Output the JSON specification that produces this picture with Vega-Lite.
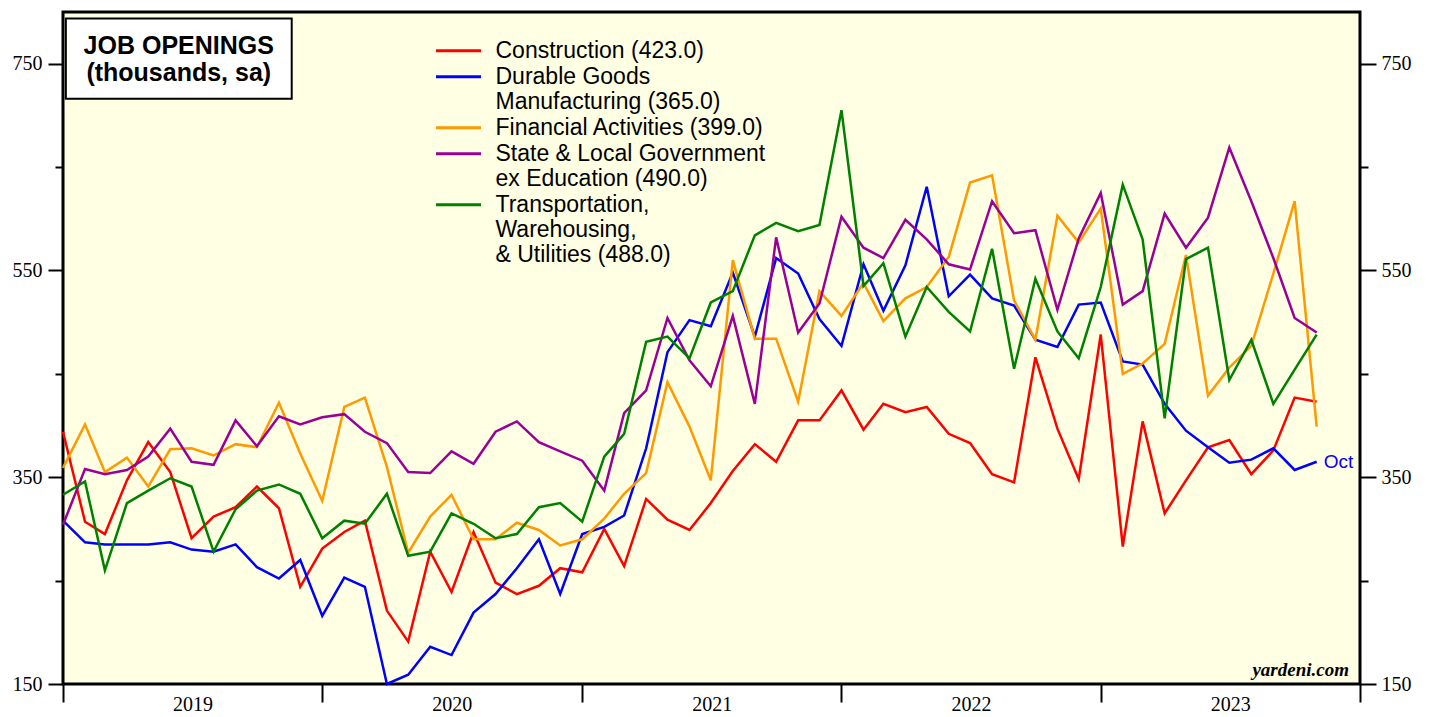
{
  "$schema": "https://vega.github.io/schema/vega-lite/v6.json",
  "width": 1297,
  "height": 672,
  "autosize": {"type": "none"},
  "padding": {"left": 63, "top": 12, "right": 71, "bottom": 33},
  "background": "#ffffff",
  "config": {
    "view": {"fill": "#ffffe3", "stroke": "#000000", "strokeWidth": 3},
    "font": "Liberation Sans"
  },
  "data": {"values": [
    {"month":"2018-12","series":"Construction","value":394},
    {"month":"2019-01","series":"Construction","value":307},
    {"month":"2019-02","series":"Construction","value":295},
    {"month":"2019-03","series":"Construction","value":347},
    {"month":"2019-04","series":"Construction","value":384},
    {"month":"2019-05","series":"Construction","value":355},
    {"month":"2019-06","series":"Construction","value":291},
    {"month":"2019-07","series":"Construction","value":312},
    {"month":"2019-08","series":"Construction","value":321},
    {"month":"2019-09","series":"Construction","value":341},
    {"month":"2019-10","series":"Construction","value":320},
    {"month":"2019-11","series":"Construction","value":244},
    {"month":"2019-12","series":"Construction","value":281},
    {"month":"2020-01","series":"Construction","value":297},
    {"month":"2020-02","series":"Construction","value":308},
    {"month":"2020-03","series":"Construction","value":221},
    {"month":"2020-04","series":"Construction","value":191},
    {"month":"2020-05","series":"Construction","value":278},
    {"month":"2020-06","series":"Construction","value":239},
    {"month":"2020-07","series":"Construction","value":297},
    {"month":"2020-08","series":"Construction","value":248},
    {"month":"2020-09","series":"Construction","value":237},
    {"month":"2020-10","series":"Construction","value":245},
    {"month":"2020-11","series":"Construction","value":262},
    {"month":"2020-12","series":"Construction","value":258},
    {"month":"2021-01","series":"Construction","value":300},
    {"month":"2021-02","series":"Construction","value":264},
    {"month":"2021-03","series":"Construction","value":329},
    {"month":"2021-04","series":"Construction","value":309},
    {"month":"2021-05","series":"Construction","value":299},
    {"month":"2021-06","series":"Construction","value":325},
    {"month":"2021-07","series":"Construction","value":356},
    {"month":"2021-08","series":"Construction","value":382},
    {"month":"2021-09","series":"Construction","value":365},
    {"month":"2021-10","series":"Construction","value":405},
    {"month":"2021-11","series":"Construction","value":405},
    {"month":"2021-12","series":"Construction","value":434},
    {"month":"2022-01","series":"Construction","value":396},
    {"month":"2022-02","series":"Construction","value":421},
    {"month":"2022-03","series":"Construction","value":413},
    {"month":"2022-04","series":"Construction","value":418},
    {"month":"2022-05","series":"Construction","value":392},
    {"month":"2022-06","series":"Construction","value":383},
    {"month":"2022-07","series":"Construction","value":353},
    {"month":"2022-08","series":"Construction","value":345},
    {"month":"2022-09","series":"Construction","value":466},
    {"month":"2022-10","series":"Construction","value":397},
    {"month":"2022-11","series":"Construction","value":348},
    {"month":"2022-12","series":"Construction","value":488},
    {"month":"2023-01","series":"Construction","value":283},
    {"month":"2023-02","series":"Construction","value":404},
    {"month":"2023-03","series":"Construction","value":315},
    {"month":"2023-04","series":"Construction","value":347},
    {"month":"2023-05","series":"Construction","value":379},
    {"month":"2023-06","series":"Construction","value":386},
    {"month":"2023-07","series":"Construction","value":353},
    {"month":"2023-08","series":"Construction","value":376},
    {"month":"2023-09","series":"Construction","value":427},
    {"month":"2023-10","series":"Construction","value":423},
    {"month":"2018-12","series":"Durable Goods Manufacturing","value":308},
    {"month":"2019-01","series":"Durable Goods Manufacturing","value":287},
    {"month":"2019-02","series":"Durable Goods Manufacturing","value":285},
    {"month":"2019-03","series":"Durable Goods Manufacturing","value":285},
    {"month":"2019-04","series":"Durable Goods Manufacturing","value":285},
    {"month":"2019-05","series":"Durable Goods Manufacturing","value":287},
    {"month":"2019-06","series":"Durable Goods Manufacturing","value":280},
    {"month":"2019-07","series":"Durable Goods Manufacturing","value":278},
    {"month":"2019-08","series":"Durable Goods Manufacturing","value":285},
    {"month":"2019-09","series":"Durable Goods Manufacturing","value":263},
    {"month":"2019-10","series":"Durable Goods Manufacturing","value":252},
    {"month":"2019-11","series":"Durable Goods Manufacturing","value":270},
    {"month":"2019-12","series":"Durable Goods Manufacturing","value":216},
    {"month":"2020-01","series":"Durable Goods Manufacturing","value":253},
    {"month":"2020-02","series":"Durable Goods Manufacturing","value":244},
    {"month":"2020-03","series":"Durable Goods Manufacturing","value":150},
    {"month":"2020-04","series":"Durable Goods Manufacturing","value":159},
    {"month":"2020-05","series":"Durable Goods Manufacturing","value":186},
    {"month":"2020-06","series":"Durable Goods Manufacturing","value":178},
    {"month":"2020-07","series":"Durable Goods Manufacturing","value":219},
    {"month":"2020-08","series":"Durable Goods Manufacturing","value":237},
    {"month":"2020-09","series":"Durable Goods Manufacturing","value":262},
    {"month":"2020-10","series":"Durable Goods Manufacturing","value":290},
    {"month":"2020-11","series":"Durable Goods Manufacturing","value":237},
    {"month":"2020-12","series":"Durable Goods Manufacturing","value":295},
    {"month":"2021-01","series":"Durable Goods Manufacturing","value":302},
    {"month":"2021-02","series":"Durable Goods Manufacturing","value":313},
    {"month":"2021-03","series":"Durable Goods Manufacturing","value":378},
    {"month":"2021-04","series":"Durable Goods Manufacturing","value":471},
    {"month":"2021-05","series":"Durable Goods Manufacturing","value":502},
    {"month":"2021-06","series":"Durable Goods Manufacturing","value":496},
    {"month":"2021-07","series":"Durable Goods Manufacturing","value":548},
    {"month":"2021-08","series":"Durable Goods Manufacturing","value":486},
    {"month":"2021-09","series":"Durable Goods Manufacturing","value":562},
    {"month":"2021-10","series":"Durable Goods Manufacturing","value":547},
    {"month":"2021-11","series":"Durable Goods Manufacturing","value":503},
    {"month":"2021-12","series":"Durable Goods Manufacturing","value":477},
    {"month":"2022-01","series":"Durable Goods Manufacturing","value":556},
    {"month":"2022-02","series":"Durable Goods Manufacturing","value":511},
    {"month":"2022-03","series":"Durable Goods Manufacturing","value":555},
    {"month":"2022-04","series":"Durable Goods Manufacturing","value":631},
    {"month":"2022-05","series":"Durable Goods Manufacturing","value":525},
    {"month":"2022-06","series":"Durable Goods Manufacturing","value":546},
    {"month":"2022-07","series":"Durable Goods Manufacturing","value":523},
    {"month":"2022-08","series":"Durable Goods Manufacturing","value":516},
    {"month":"2022-09","series":"Durable Goods Manufacturing","value":483},
    {"month":"2022-10","series":"Durable Goods Manufacturing","value":476},
    {"month":"2022-11","series":"Durable Goods Manufacturing","value":517},
    {"month":"2022-12","series":"Durable Goods Manufacturing","value":519},
    {"month":"2023-01","series":"Durable Goods Manufacturing","value":462},
    {"month":"2023-02","series":"Durable Goods Manufacturing","value":459},
    {"month":"2023-03","series":"Durable Goods Manufacturing","value":421},
    {"month":"2023-04","series":"Durable Goods Manufacturing","value":395},
    {"month":"2023-05","series":"Durable Goods Manufacturing","value":379},
    {"month":"2023-06","series":"Durable Goods Manufacturing","value":364},
    {"month":"2023-07","series":"Durable Goods Manufacturing","value":367},
    {"month":"2023-08","series":"Durable Goods Manufacturing","value":378},
    {"month":"2023-09","series":"Durable Goods Manufacturing","value":357},
    {"month":"2023-10","series":"Durable Goods Manufacturing","value":365},
    {"month":"2018-12","series":"Financial Activities","value":359},
    {"month":"2019-01","series":"Financial Activities","value":401},
    {"month":"2019-02","series":"Financial Activities","value":355},
    {"month":"2019-03","series":"Financial Activities","value":369},
    {"month":"2019-04","series":"Financial Activities","value":341},
    {"month":"2019-05","series":"Financial Activities","value":377},
    {"month":"2019-06","series":"Financial Activities","value":378},
    {"month":"2019-07","series":"Financial Activities","value":371},
    {"month":"2019-08","series":"Financial Activities","value":382},
    {"month":"2019-09","series":"Financial Activities","value":379},
    {"month":"2019-10","series":"Financial Activities","value":422},
    {"month":"2019-11","series":"Financial Activities","value":373},
    {"month":"2019-12","series":"Financial Activities","value":327},
    {"month":"2020-01","series":"Financial Activities","value":418},
    {"month":"2020-02","series":"Financial Activities","value":427},
    {"month":"2020-03","series":"Financial Activities","value":360},
    {"month":"2020-04","series":"Financial Activities","value":277},
    {"month":"2020-05","series":"Financial Activities","value":312},
    {"month":"2020-06","series":"Financial Activities","value":333},
    {"month":"2020-07","series":"Financial Activities","value":290},
    {"month":"2020-08","series":"Financial Activities","value":290},
    {"month":"2020-09","series":"Financial Activities","value":306},
    {"month":"2020-10","series":"Financial Activities","value":299},
    {"month":"2020-11","series":"Financial Activities","value":284},
    {"month":"2020-12","series":"Financial Activities","value":290},
    {"month":"2021-01","series":"Financial Activities","value":310},
    {"month":"2021-02","series":"Financial Activities","value":334},
    {"month":"2021-03","series":"Financial Activities","value":354},
    {"month":"2021-04","series":"Financial Activities","value":442},
    {"month":"2021-05","series":"Financial Activities","value":399},
    {"month":"2021-06","series":"Financial Activities","value":347},
    {"month":"2021-07","series":"Financial Activities","value":560},
    {"month":"2021-08","series":"Financial Activities","value":484},
    {"month":"2021-09","series":"Financial Activities","value":484},
    {"month":"2021-10","series":"Financial Activities","value":423},
    {"month":"2021-11","series":"Financial Activities","value":530},
    {"month":"2021-12","series":"Financial Activities","value":506},
    {"month":"2022-01","series":"Financial Activities","value":538},
    {"month":"2022-02","series":"Financial Activities","value":501},
    {"month":"2022-03","series":"Financial Activities","value":523},
    {"month":"2022-04","series":"Financial Activities","value":534},
    {"month":"2022-05","series":"Financial Activities","value":563},
    {"month":"2022-06","series":"Financial Activities","value":635},
    {"month":"2022-07","series":"Financial Activities","value":642},
    {"month":"2022-08","series":"Financial Activities","value":521},
    {"month":"2022-09","series":"Financial Activities","value":483},
    {"month":"2022-10","series":"Financial Activities","value":603},
    {"month":"2022-11","series":"Financial Activities","value":577},
    {"month":"2022-12","series":"Financial Activities","value":610},
    {"month":"2023-01","series":"Financial Activities","value":450},
    {"month":"2023-02","series":"Financial Activities","value":460},
    {"month":"2023-03","series":"Financial Activities","value":479},
    {"month":"2023-04","series":"Financial Activities","value":565},
    {"month":"2023-05","series":"Financial Activities","value":429},
    {"month":"2023-06","series":"Financial Activities","value":456},
    {"month":"2023-07","series":"Financial Activities","value":477},
    {"month":"2023-08","series":"Financial Activities","value":547},
    {"month":"2023-09","series":"Financial Activities","value":617},
    {"month":"2023-10","series":"Financial Activities","value":399},
    {"month":"2018-12","series":"State & Local Government ex Education","value":304},
    {"month":"2019-01","series":"State & Local Government ex Education","value":358},
    {"month":"2019-02","series":"State & Local Government ex Education","value":353},
    {"month":"2019-03","series":"State & Local Government ex Education","value":357},
    {"month":"2019-04","series":"State & Local Government ex Education","value":370},
    {"month":"2019-05","series":"State & Local Government ex Education","value":397},
    {"month":"2019-06","series":"State & Local Government ex Education","value":365},
    {"month":"2019-07","series":"State & Local Government ex Education","value":362},
    {"month":"2019-08","series":"State & Local Government ex Education","value":405},
    {"month":"2019-09","series":"State & Local Government ex Education","value":380},
    {"month":"2019-10","series":"State & Local Government ex Education","value":409},
    {"month":"2019-11","series":"State & Local Government ex Education","value":401},
    {"month":"2019-12","series":"State & Local Government ex Education","value":408},
    {"month":"2020-01","series":"State & Local Government ex Education","value":411},
    {"month":"2020-02","series":"State & Local Government ex Education","value":394},
    {"month":"2020-03","series":"State & Local Government ex Education","value":383},
    {"month":"2020-04","series":"State & Local Government ex Education","value":355},
    {"month":"2020-05","series":"State & Local Government ex Education","value":354},
    {"month":"2020-06","series":"State & Local Government ex Education","value":375},
    {"month":"2020-07","series":"State & Local Government ex Education","value":363},
    {"month":"2020-08","series":"State & Local Government ex Education","value":394},
    {"month":"2020-09","series":"State & Local Government ex Education","value":404},
    {"month":"2020-10","series":"State & Local Government ex Education","value":384},
    {"month":"2020-11","series":"State & Local Government ex Education","value":375},
    {"month":"2020-12","series":"State & Local Government ex Education","value":366},
    {"month":"2021-01","series":"State & Local Government ex Education","value":337},
    {"month":"2021-02","series":"State & Local Government ex Education","value":412},
    {"month":"2021-03","series":"State & Local Government ex Education","value":434},
    {"month":"2021-04","series":"State & Local Government ex Education","value":504},
    {"month":"2021-05","series":"State & Local Government ex Education","value":463},
    {"month":"2021-06","series":"State & Local Government ex Education","value":438},
    {"month":"2021-07","series":"State & Local Government ex Education","value":506},
    {"month":"2021-08","series":"State & Local Government ex Education","value":421},
    {"month":"2021-09","series":"State & Local Government ex Education","value":582},
    {"month":"2021-10","series":"State & Local Government ex Education","value":490},
    {"month":"2021-11","series":"State & Local Government ex Education","value":518},
    {"month":"2021-12","series":"State & Local Government ex Education","value":602},
    {"month":"2022-01","series":"State & Local Government ex Education","value":572},
    {"month":"2022-02","series":"State & Local Government ex Education","value":562},
    {"month":"2022-03","series":"State & Local Government ex Education","value":599},
    {"month":"2022-04","series":"State & Local Government ex Education","value":580},
    {"month":"2022-05","series":"State & Local Government ex Education","value":556},
    {"month":"2022-06","series":"State & Local Government ex Education","value":551},
    {"month":"2022-07","series":"State & Local Government ex Education","value":617},
    {"month":"2022-08","series":"State & Local Government ex Education","value":586},
    {"month":"2022-09","series":"State & Local Government ex Education","value":589},
    {"month":"2022-10","series":"State & Local Government ex Education","value":512},
    {"month":"2022-11","series":"State & Local Government ex Education","value":581},
    {"month":"2022-12","series":"State & Local Government ex Education","value":625},
    {"month":"2023-01","series":"State & Local Government ex Education","value":517},
    {"month":"2023-02","series":"State & Local Government ex Education","value":530},
    {"month":"2023-03","series":"State & Local Government ex Education","value":605},
    {"month":"2023-04","series":"State & Local Government ex Education","value":572},
    {"month":"2023-05","series":"State & Local Government ex Education","value":601},
    {"month":"2023-06","series":"State & Local Government ex Education","value":669},
    {"month":"2023-07","series":"State & Local Government ex Education","value":617},
    {"month":"2023-08","series":"State & Local Government ex Education","value":562},
    {"month":"2023-09","series":"State & Local Government ex Education","value":504},
    {"month":"2023-10","series":"State & Local Government ex Education","value":490},
    {"month":"2018-12","series":"Transportation, Warehousing, & Utilities","value":333},
    {"month":"2019-01","series":"Transportation, Warehousing, & Utilities","value":346},
    {"month":"2019-02","series":"Transportation, Warehousing, & Utilities","value":260},
    {"month":"2019-03","series":"Transportation, Warehousing, & Utilities","value":325},
    {"month":"2019-04","series":"Transportation, Warehousing, & Utilities","value":337},
    {"month":"2019-05","series":"Transportation, Warehousing, & Utilities","value":349},
    {"month":"2019-06","series":"Transportation, Warehousing, & Utilities","value":341},
    {"month":"2019-07","series":"Transportation, Warehousing, & Utilities","value":278},
    {"month":"2019-08","series":"Transportation, Warehousing, & Utilities","value":319},
    {"month":"2019-09","series":"Transportation, Warehousing, & Utilities","value":337},
    {"month":"2019-10","series":"Transportation, Warehousing, & Utilities","value":343},
    {"month":"2019-11","series":"Transportation, Warehousing, & Utilities","value":334},
    {"month":"2019-12","series":"Transportation, Warehousing, & Utilities","value":291},
    {"month":"2020-01","series":"Transportation, Warehousing, & Utilities","value":308},
    {"month":"2020-02","series":"Transportation, Warehousing, & Utilities","value":305},
    {"month":"2020-03","series":"Transportation, Warehousing, & Utilities","value":334},
    {"month":"2020-04","series":"Transportation, Warehousing, & Utilities","value":274},
    {"month":"2020-05","series":"Transportation, Warehousing, & Utilities","value":278},
    {"month":"2020-06","series":"Transportation, Warehousing, & Utilities","value":315},
    {"month":"2020-07","series":"Transportation, Warehousing, & Utilities","value":305},
    {"month":"2020-08","series":"Transportation, Warehousing, & Utilities","value":291},
    {"month":"2020-09","series":"Transportation, Warehousing, & Utilities","value":295},
    {"month":"2020-10","series":"Transportation, Warehousing, & Utilities","value":321},
    {"month":"2020-11","series":"Transportation, Warehousing, & Utilities","value":325},
    {"month":"2020-12","series":"Transportation, Warehousing, & Utilities","value":307},
    {"month":"2021-01","series":"Transportation, Warehousing, & Utilities","value":370},
    {"month":"2021-02","series":"Transportation, Warehousing, & Utilities","value":392},
    {"month":"2021-03","series":"Transportation, Warehousing, & Utilities","value":481},
    {"month":"2021-04","series":"Transportation, Warehousing, & Utilities","value":486},
    {"month":"2021-05","series":"Transportation, Warehousing, & Utilities","value":465},
    {"month":"2021-06","series":"Transportation, Warehousing, & Utilities","value":519},
    {"month":"2021-07","series":"Transportation, Warehousing, & Utilities","value":530},
    {"month":"2021-08","series":"Transportation, Warehousing, & Utilities","value":584},
    {"month":"2021-09","series":"Transportation, Warehousing, & Utilities","value":596},
    {"month":"2021-10","series":"Transportation, Warehousing, & Utilities","value":588},
    {"month":"2021-11","series":"Transportation, Warehousing, & Utilities","value":594},
    {"month":"2021-12","series":"Transportation, Warehousing, & Utilities","value":705},
    {"month":"2022-01","series":"Transportation, Warehousing, & Utilities","value":535},
    {"month":"2022-02","series":"Transportation, Warehousing, & Utilities","value":557},
    {"month":"2022-03","series":"Transportation, Warehousing, & Utilities","value":486},
    {"month":"2022-04","series":"Transportation, Warehousing, & Utilities","value":534},
    {"month":"2022-05","series":"Transportation, Warehousing, & Utilities","value":510},
    {"month":"2022-06","series":"Transportation, Warehousing, & Utilities","value":491},
    {"month":"2022-07","series":"Transportation, Warehousing, & Utilities","value":571},
    {"month":"2022-08","series":"Transportation, Warehousing, & Utilities","value":455},
    {"month":"2022-09","series":"Transportation, Warehousing, & Utilities","value":542},
    {"month":"2022-10","series":"Transportation, Warehousing, & Utilities","value":491},
    {"month":"2022-11","series":"Transportation, Warehousing, & Utilities","value":465},
    {"month":"2022-12","series":"Transportation, Warehousing, & Utilities","value":534},
    {"month":"2023-01","series":"Transportation, Warehousing, & Utilities","value":633},
    {"month":"2023-02","series":"Transportation, Warehousing, & Utilities","value":580},
    {"month":"2023-03","series":"Transportation, Warehousing, & Utilities","value":407},
    {"month":"2023-04","series":"Transportation, Warehousing, & Utilities","value":561},
    {"month":"2023-05","series":"Transportation, Warehousing, & Utilities","value":572},
    {"month":"2023-06","series":"Transportation, Warehousing, & Utilities","value":444},
    {"month":"2023-07","series":"Transportation, Warehousing, & Utilities","value":483},
    {"month":"2023-08","series":"Transportation, Warehousing, & Utilities","value":421},
    {"month":"2023-09","series":"Transportation, Warehousing, & Utilities","value":454},
    {"month":"2023-10","series":"Transportation, Warehousing, & Utilities","value":488}
  ]},
  "resolve": {"axis": {"y": "independent"}},
  "layer": [
    {
      "mark": {"type": "line", "strokeWidth": 2.5, "interpolate": "linear"},
      "encoding": {
        "x": {
          "field": "month", "type": "temporal", "timeUnit": "utcyearmonth", "bandPosition": 1,
          "scale": {"type": "utc", "domain": [{"year": 2019, "month": 1, "date": 1, "utc": true}, {"year": 2024, "month": 1, "date": 1, "utc": true}]},
          "axis": {
            "title": null,
            "values": [
              {"year": 2019, "month": 1, "date": 1, "utc": true},
              {"year": 2020, "month": 1, "date": 1, "utc": true},
              {"year": 2021, "month": 1, "date": 1, "utc": true},
              {"year": 2022, "month": 1, "date": 1, "utc": true},
              {"year": 2023, "month": 1, "date": 1, "utc": true},
              {"year": 2024, "month": 1, "date": 1, "utc": true}
            ],
            "labelExpr": "utcyear(datum.value) >= 2024 ? '' : utcFormat(datum.value, '%Y')",
            "labelOffset": 129.6,
            "labelFont": "Liberation Serif",
            "labelFontSize": 20,
            "labelColor": "#000000",
            "labelPadding": -8,
            "labelOverlap": false,
            "labelFlush": false,
            "labelBound": false,
            "tickSize": 18,
            "tickWidth": 2,
            "tickColor": "#000000",
            "domain": false,
            "grid": false
          }
        },
        "y": {
          "field": "value", "type": "quantitative",
          "scale": {"domain": [150, 800], "nice": false, "zero": false},
          "axis": {
            "orient": "left",
            "title": null,
            "values": [150, 250, 350, 450, 550, 650, 750],
            "labelExpr": "(datum.value - 150) % 200 === 0 ? datum.label : ''",
            "labelFont": "Liberation Serif",
            "labelFontSize": 20,
            "labelColor": "#000000",
            "labelPadding": 6,
            "tickSize": {"condition": {"test": "(datum.value - 150) % 200 === 0", "value": 15}, "value": 8},
            "tickWidth": 2,
            "tickColor": "#000000",
            "domain": false,
            "grid": false
          }
        },
        "color": {
          "field": "series", "type": "nominal",
          "scale": {
            "domain": ["Construction", "Durable Goods Manufacturing", "Financial Activities", "State & Local Government ex Education", "Transportation, Warehousing, & Utilities"],
            "range": ["#ff0000", "#0000ff", "#ff9900", "#990099", "#008000"]
          },
          "legend": {
            "title": null,
            "orient": "none",
            "legendX": 373,
            "legendY": 25.7,
            "padding": 0,
            "symbolType": "M-2,0H2",
            "symbolSize": 506,
            "symbolStrokeWidth": 3,
            "symbolOffset": 9.5,
            "labelFont": "Liberation Sans",
            "labelFontSize": 23,
            "labelColor": "#000000",
            "labelLimit": 500,
            "labelOffset": 24,
            "labelBaseline": "middle",
            "rowPadding": 1,
            "labelExpr": "datum.label === 'Construction' ? 'Construction (423.0)' : datum.label === 'Durable Goods Manufacturing' ? ['Durable Goods', 'Manufacturing (365.0)'] : datum.label === 'Financial Activities' ? 'Financial Activities (399.0)' : datum.label === 'State & Local Government ex Education' ? ['State & Local Government', 'ex Education (490.0)'] : ['Transportation,', 'Warehousing,', '& Utilities (488.0)']"
          }
        }
      }
    },
    {
      "transform": [{"filter": "datum.series === 'Durable Goods Manufacturing' && utcyear(datum.month) === 2023 && utcmonth(datum.month) === 9"}],
      "mark": {"type": "text", "text": "Oct", "align": "left", "baseline": "middle", "dx": 7, "fontSize": 19, "font": "Liberation Sans", "color": "#0000ff"},
      "encoding": {
        "x": {"field": "month", "type": "temporal", "timeUnit": "utcyearmonth", "bandPosition": 1},
        "y": {
          "field": "value", "type": "quantitative",
          "axis": {
            "orient": "right",
            "title": null,
            "values": [150, 250, 350, 450, 550, 650, 750],
            "labelExpr": "(datum.value - 150) % 200 === 0 ? datum.label : ''",
            "labelFont": "Liberation Serif",
            "labelFontSize": 20,
            "labelColor": "#000000",
            "labelPadding": 5,
            "tickSize": {"condition": {"test": "(datum.value - 150) % 200 === 0", "value": 16}, "value": 8},
            "tickWidth": 2,
            "tickColor": "#000000",
            "domain": false,
            "grid": false
          }
        }
      }
    },
    {
      "data": {"values": [{}]},
      "mark": {"type": "rect", "fill": "#ffffff", "stroke": "#000000", "strokeWidth": 2},
      "encoding": {
        "x": {"datum": {"year": 2019, "month": 1, "date": 5, "utc": true}, "type": "temporal"},
        "x2": {"datum": {"year": 2019, "month": 11, "date": 19, "utc": true}},
        "y": {"datum": 793.6, "type": "quantitative", "axis": null},
        "y2": {"datum": 716.1}
      }
    },
    {
      "data": {"values": [{}]},
      "mark": {"type": "text", "text": "JOB OPENINGS", "align": "center", "baseline": "middle", "fontSize": 25, "fontWeight": "bold", "font": "Liberation Sans", "color": "#000000"},
      "encoding": {
        "x": {"datum": {"year": 2019, "month": 6, "date": 13, "utc": true}, "type": "temporal"},
        "y": {"datum": 767.4, "type": "quantitative", "axis": null}
      }
    },
    {
      "data": {"values": [{}]},
      "mark": {"type": "text", "text": "(thousands, sa)", "align": "center", "baseline": "middle", "fontSize": 25, "fontWeight": "bold", "font": "Liberation Sans", "color": "#000000"},
      "encoding": {
        "x": {"datum": {"year": 2019, "month": 6, "date": 13, "utc": true}, "type": "temporal"},
        "y": {"datum": 741.3, "type": "quantitative", "axis": null}
      }
    },
    {
      "data": {"values": [{}]},
      "mark": {"type": "text", "text": "yardeni.com", "align": "right", "baseline": "alphabetic", "dx": -11, "dy": -8, "fontSize": 19, "fontWeight": "bold", "fontStyle": "italic", "font": "Liberation Serif", "color": "#000000"},
      "encoding": {
        "x": {"datum": {"year": 2024, "month": 1, "date": 1, "utc": true}, "type": "temporal"},
        "y": {"datum": 150, "type": "quantitative", "axis": null}
      }
    }
  ]
}
